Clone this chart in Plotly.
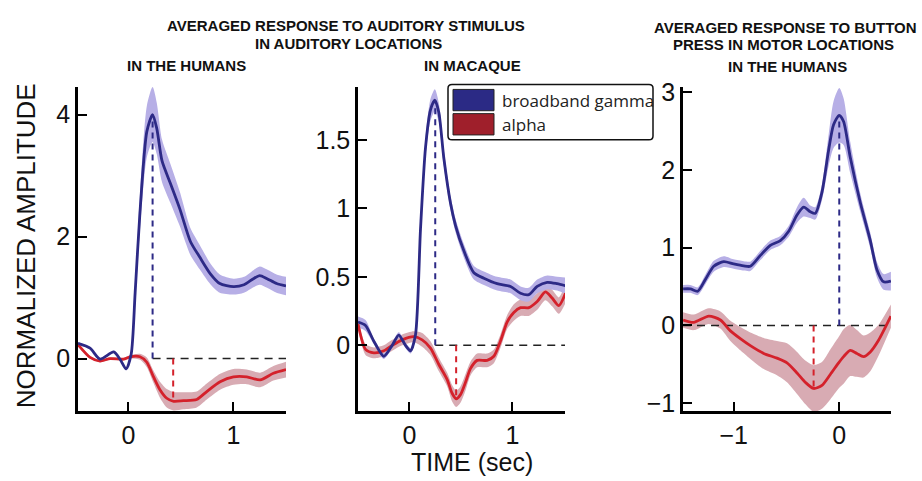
import plotly.graph_objects as go

W, H = 922, 481

# ---------------- data ----------------
# Panel 1: auditory, humans
t1_g = [-0.48, -0.365, -0.27, -0.14, -0.08, -0.022, 0.026, 0.064, 0.11, 0.175, 0.23, 0.27, 0.32, 0.40, 0.49,
        0.59, 0.68, 0.78, 0.87, 1.0, 1.1, 1.19, 1.25, 1.32, 1.41, 1.50]
g1 = [0.25, 0.17, -0.01, 0.11, -0.01, -0.17, 0.07, 1.08, 2.4, 3.72, 4.0, 3.77, 3.24, 2.87, 2.45,
      1.92, 1.66, 1.39, 1.23, 1.18, 1.21, 1.31, 1.36, 1.31, 1.23, 1.19]
g1_err = [0.02, 0.02, 0.02, 0.02, 0.02, 0.02, 0.05, 0.15, 0.3, 0.42, 0.45, 0.42, 0.35, 0.32, 0.28,
          0.22, 0.2, 0.17, 0.15, 0.13, 0.13, 0.14, 0.15, 0.15, 0.15, 0.15]
t1_a = [-0.48, -0.365, -0.27, -0.175, -0.048, 0.016, 0.11, 0.175, 0.239, 0.30, 0.365, 0.43, 0.524, 0.65,
        0.746, 0.873, 1.0, 1.127, 1.254, 1.38, 1.50]
a1 = [0.23, 0.02, -0.04, 0.0, -0.01, 0.03, 0.03, -0.06, -0.30, -0.51, -0.65, -0.70, -0.69, -0.67,
      -0.54, -0.38, -0.30, -0.30, -0.35, -0.24, -0.18]
a1_err = [0.02, 0.02, 0.02, 0.02, 0.02, 0.03, 0.05, 0.08, 0.1, 0.13, 0.15, 0.15, 0.14, 0.13,
          0.13, 0.13, 0.13, 0.12, 0.12, 0.12, 0.13]

# Panel 2: auditory, macaque
t2_g = [-0.5, -0.427, -0.346, -0.249, -0.168, -0.104, -0.039, 0.010, 0.058, 0.107, 0.155, 0.204, 0.246, 0.285,
        0.333, 0.398, 0.447, 0.528, 0.625, 0.722, 0.851, 0.981, 1.078, 1.159, 1.24, 1.337, 1.434, 1.515]
g2 = [0.17, 0.145, 0.03, -0.08, 0.0, 0.075, 0.0, -0.04, 0.075, 0.85, 1.44, 1.72, 1.79, 1.70,
      1.37, 1.04, 0.875, 0.69, 0.53, 0.49, 0.45, 0.43, 0.38, 0.37, 0.43, 0.46, 0.45, 0.435]
g2_err = [0.04, 0.04, 0.02, 0.02, 0.02, 0.02, 0.02, 0.02, 0.03, 0.05, 0.07, 0.08, 0.08, 0.07,
          0.06, 0.05, 0.05, 0.05, 0.05, 0.05, 0.05, 0.05, 0.05, 0.05, 0.05, 0.05, 0.05, 0.06]
t2_a = [-0.5, -0.427, -0.346, -0.249, -0.168, -0.071, 0.042, 0.123, 0.204, 0.285, 0.366, 0.414, 0.453, 0.495,
        0.544, 0.592, 0.657, 0.754, 0.819, 0.883, 0.948, 1.013, 1.078, 1.159, 1.24, 1.32, 1.385, 1.45, 1.515]
a2 = [0.157, -0.03, -0.055, -0.04, 0.0, 0.04, 0.063, 0.04, -0.02, -0.14, -0.25, -0.35, -0.39, -0.36,
      -0.27, -0.17, -0.11, -0.11, -0.08, 0.03, 0.17, 0.24, 0.275, 0.275, 0.32, 0.39, 0.345, 0.29, 0.38]
a2_err = [0.03, 0.04, 0.04, 0.04, 0.04, 0.04, 0.04, 0.05, 0.05, 0.05, 0.05, 0.06, 0.06, 0.06,
          0.06, 0.05, 0.05, 0.05, 0.05, 0.05, 0.05, 0.06, 0.06, 0.06, 0.06, 0.06, 0.06, 0.06, 0.07]

# Panel 3: button press, motor, humans
t3_g = [-1.479, -1.410, -1.340, -1.268, -1.189, -1.094, -1.0, -0.905, -0.842, -0.747, -0.653, -0.558, -0.479,
        -0.400, -0.337, -0.274, -0.227, -0.164, -0.101, -0.054, 0.0, 0.041, 0.104, 0.199, 0.294, 0.356, 0.420, 0.489]
g3 = [0.47, 0.47, 0.44, 0.59, 0.76, 0.82, 0.79, 0.765, 0.76, 0.90, 1.03, 1.09, 1.21,
      1.42, 1.52, 1.46, 1.44, 1.71, 2.25, 2.58, 2.70, 2.62, 2.16, 1.58, 1.09, 0.72, 0.56, 0.57]
g3_err = [0.05, 0.05, 0.05, 0.06, 0.07, 0.07, 0.06, 0.06, 0.06, 0.06, 0.06, 0.06, 0.07,
          0.1, 0.12, 0.08, 0.08, 0.1, 0.2, 0.3, 0.35, 0.3, 0.2, 0.12, 0.1, 0.1, 0.1, 0.12]
t3_a = [-1.479, -1.378, -1.236, -1.126, -1.031, -0.937, -0.842, -0.716, -0.590, -0.495, -0.400, -0.322,
        -0.243, -0.164, -0.085, -0.006, 0.041, 0.104, 0.167, 0.230, 0.294, 0.372, 0.489]
a3 = [0.07, 0.04, 0.12, 0.07, -0.07, -0.17, -0.26, -0.36, -0.42, -0.48, -0.61, -0.73,
      -0.81, -0.77, -0.63, -0.48, -0.40, -0.32, -0.36, -0.40, -0.34, -0.19, 0.12]
a3_err = [0.1, 0.1, 0.1, 0.11, 0.13, 0.15, 0.17, 0.2, 0.22, 0.25, 0.27, 0.28,
          0.3, 0.3, 0.32, 0.33, 0.35, 0.33, 0.3, 0.27, 0.25, 0.2, 0.15]

# peak / trough markers: (time, value)
gamma_peak_t = [0.23, 0.25, 0.0]
gamma_peak_v = [4.0, 1.79, 2.70]
alpha_trough_t = [0.426, 0.453, -0.243]
alpha_trough_v = [-0.70, -0.39, -0.81]
zero_line_start = [0.23, 0.25, -1.48]
zero_line_end = [1.50, 1.51, 0.49]

x_ranges = [[-0.48, 1.50], [-0.50, 1.51], [-1.48, 0.49]]
y_ranges = [[-0.86, 4.46], [-0.48, 1.89], [-1.10, 3.07]]
x_ticks = [[0, 1], [0, 1], [-1, 0]]
y_ticks = [[0, 2, 4], [0, 0.5, 1, 1.5], [-1, 0, 1, 2, 3]]
y_ticktext = [["0", "2", "4"], ["0", "0.5", "1", "1.5"], ["\u22121", "0", "1", "2", "3"]]
x_ticktext = [["0", "1"], ["0", "1"], ["\u22121", "0"]]

legend_labels = ["broadband gamma", "alpha"]

# ---------------- style ----------------
BLUE = "#2d2a86"
BLUE_BAND = "#b7afe6"
RED = "#d4212b"
RED_BAND = "#d8abb3"
LEG_BLUE = "#2b2a85"
LEG_RED = "#9f1f2b"
FONT = "Liberation Sans"

fig = go.Figure()

panels = [
    (t1_g, g1, g1_err, t1_a, a1, a1_err),
    (t2_g, g2, g2_err, t2_a, a2, a2_err),
    (t3_g, g3, g3_err, t3_a, a3, a3_err),
]

for i, (tg, g, ge, ta, a, ae) in enumerate(panels):
    xa = "x" if i == 0 else f"x{i+1}"
    ya = "y" if i == 0 else f"y{i+1}"
    sm = 0.7
    # bands
    for tt, vv, ee, bc in [(ta, a, ae, RED_BAND), (tg, g, ge, BLUE_BAND)]:
        up = [v + e for v, e in zip(vv, ee)]
        lo = [v - e for v, e in zip(vv, ee)]
        fig.add_trace(go.Scatter(x=tt, y=up, mode="lines", line=dict(width=0, shape="spline", smoothing=sm),
                                 xaxis=xa, yaxis=ya, showlegend=False, hoverinfo="skip"))
        fig.add_trace(go.Scatter(x=tt, y=lo, mode="lines", line=dict(width=0, shape="spline", smoothing=sm),
                                 fill="tonexty", fillcolor=bc, xaxis=xa, yaxis=ya, showlegend=False,
                                 hoverinfo="skip"))
    # zero dashed line
    fig.add_trace(go.Scatter(x=[zero_line_start[i], zero_line_end[i]], y=[0, 0], mode="lines",
                             line=dict(color="#222222", width=1.5, dash="8px,6px"),
                             xaxis=xa, yaxis=ya, showlegend=False, hoverinfo="skip"))
    # vertical dashed markers
    fig.add_trace(go.Scatter(x=[gamma_peak_t[i], gamma_peak_t[i]], y=[0, gamma_peak_v[i]], mode="lines",
                             line=dict(color=BLUE, width=2, dash="6px,5px"),
                             xaxis=xa, yaxis=ya, showlegend=False, hoverinfo="skip"))
    fig.add_trace(go.Scatter(x=[alpha_trough_t[i], alpha_trough_t[i]], y=[0, alpha_trough_v[i]], mode="lines",
                             line=dict(color=RED, width=2, dash="6px,5px"),
                             xaxis=xa, yaxis=ya, showlegend=False, hoverinfo="skip"))
    # mean lines
    fig.add_trace(go.Scatter(x=ta, y=a, mode="lines", line=dict(color=RED, width=2.8, shape="spline", smoothing=sm),
                             xaxis=xa, yaxis=ya, showlegend=False))
    fig.add_trace(go.Scatter(x=tg, y=g, mode="lines", line=dict(color=BLUE, width=2.8, shape="spline", smoothing=sm),
                             xaxis=xa, yaxis=ya, showlegend=False))

# axes
x_domains = [[78 / W, 286 / W], [358 / W, 565 / W], [683 / W, 891 / W]]
y_domain = [1 - 415 / H, 1 - 80 / H]
layout_axes = {}
for i in range(3):
    sx = "xaxis" if i == 0 else f"xaxis{i+1}"
    sy = "yaxis" if i == 0 else f"yaxis{i+1}"
    ax_anchor = "y" if i == 0 else f"y{i+1}"
    ay_anchor = "x" if i == 0 else f"x{i+1}"
    layout_axes[sx] = dict(domain=x_domains[i], range=x_ranges[i], anchor=ax_anchor,
                           showline=True, linecolor="black", linewidth=2.5, showgrid=False, zeroline=False,
                           ticks="inside", ticklen=9, tickwidth=2, tickcolor="black",
                           tickvals=x_ticks[i], ticktext=x_ticktext[i],
                           tickfont=dict(family=FONT, size=25, color="#111111"))
    layout_axes[sy] = dict(domain=y_domain, range=y_ranges[i], anchor=ay_anchor,
                           showline=True, linecolor="black", linewidth=2.5, showgrid=False, zeroline=False,
                           ticks="inside", ticklen=9, tickwidth=2, tickcolor="black",
                           tickvals=y_ticks[i], ticktext=y_ticktext[i],
                           tickfont=dict(family=FONT, size=25, color="#111111"))

annotations = []


def ann(text, px, py, size, bold=False, family=FONT, angle=0, xanchor="center"):
    annotations.append(dict(text=f"<b>{text}</b>" if bold else text, x=px / W, y=1 - py / H,
                            xref="paper", yref="paper", showarrow=False, xanchor=xanchor, yanchor="middle",
                            textangle=angle, font=dict(family=family, size=size, color="#111111")))


TS = 15
ann("AVERAGED RESPONSE TO AUDITORY STIMULUS", 346, 17, TS, bold=True)
ann("IN AUDITORY LOCATIONS", 348, 36, TS, bold=True)
ann("IN THE HUMANS", 186, 58, TS, bold=True)
ann("IN MACAQUE", 472, 58, TS, bold=True)
ann("AVERAGED RESPONSE TO BUTTON", 785, 19, TS, bold=True)
ann("PRESS IN MOTOR LOCATIONS", 783, 37, TS, bold=True)
ann("IN THE HUMANS", 787, 59, TS, bold=True)
ann("NORMALIZED AMPLITUDE", 26, 245, 26, angle=-90)
ann("TIME (sec)", 472, 468, 25)

# legend (drawn manually)
shapes = []
lx0, lx1, ly0, ly1, r = 448, 653, 78, 135, 4


def px(x):
    return x / W


def py(y):
    return 1 - y / H


path = (f"M {px(lx0 + r)},{py(ly0)} L {px(lx1 - r)},{py(ly0)} Q {px(lx1)},{py(ly0)} {px(lx1)},{py(ly0 + r)} "
        f"L {px(lx1)},{py(ly1 - r)} Q {px(lx1)},{py(ly1)} {px(lx1 - r)},{py(ly1)} "
        f"L {px(lx0 + r)},{py(ly1)} Q {px(lx0)},{py(ly1)} {px(lx0)},{py(ly1 - r)} "
        f"L {px(lx0)},{py(ly0 + r)} Q {px(lx0)},{py(ly0)} {px(lx0 + r)},{py(ly0)} Z")
shapes.append(dict(type="path", path=path, xref="paper", yref="paper",
                   line=dict(color="#111111", width=1.5), fillcolor="white", layer="above"))
for (y0, y1), col, lab in zip([(83, 105), (108, 130)], [LEG_BLUE, LEG_RED], legend_labels):
    shapes.append(dict(type="rect", x0=px(453), x1=px(494), y0=py(y1), y1=py(y0), xref="paper", yref="paper",
                       line=dict(color="#222222", width=1), fillcolor=col, layer="above"))
    annotations.append(dict(text=lab, x=px(500), y=py((y0 + y1) / 2), xref="paper", yref="paper",
                            showarrow=False, xanchor="left", yanchor="middle",
                            font=dict(family="Open Sans", size=17, color="#222222")))

fig.update_layout(width=W, height=H, margin=dict(l=0, r=0, t=0, b=0),
                  paper_bgcolor="white", plot_bgcolor="white", showlegend=False,
                  annotations=annotations, shapes=shapes, **layout_axes)

fig.write_html("out.html")
